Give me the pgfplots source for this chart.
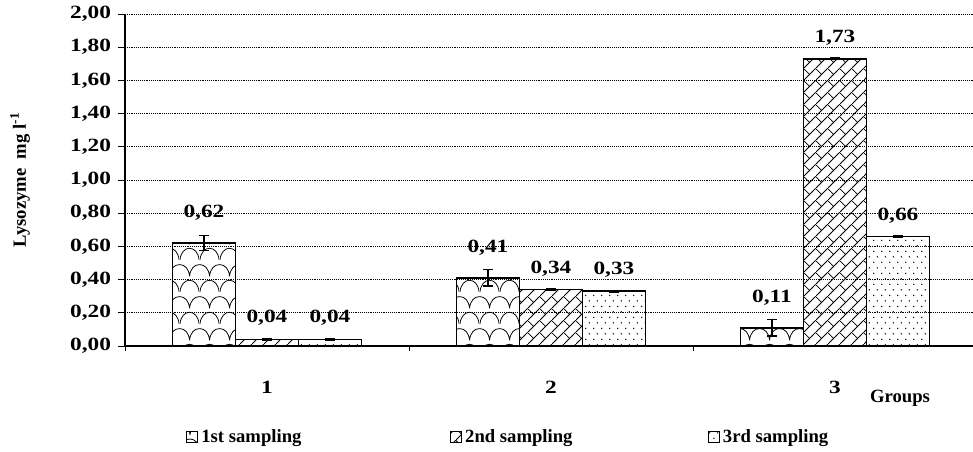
\documentclass[border=0pt]{standalone}
\usepackage{fontspec}
\setmainfont{Liberation Serif}
\newfontfamily\numfont{Liberation Serif}[FakeStretch=1.25]
\usepackage{pgfplots}
\pgfplotsset{compat=1.18}
\usepackage{pgfplotstable}
\usetikzlibrary{patterns,patterns.meta}

\pgfdeclarepattern{
  name=scales, type=uncolored,
  bottom left={\pgfpoint{0pt}{0pt}},
  top right={\pgfpoint{15pt}{24pt}},
  tile size={\pgfpoint{15pt}{24pt}},
  code={
    \pgfsetlinewidth{0.6pt}
    \pgfpathmoveto{\pgfpoint{0pt}{0pt}}
    \pgfpathcurveto{\pgfpoint{1pt}{12pt}}{\pgfpoint{14pt}{12pt}}{\pgfpoint{15pt}{0pt}}
    \pgfpathmoveto{\pgfpoint{-7.5pt}{12pt}}
    \pgfpathcurveto{\pgfpoint{-6.5pt}{24pt}}{\pgfpoint{6.5pt}{24pt}}{\pgfpoint{7.5pt}{12pt}}
    \pgfpathmoveto{\pgfpoint{7.5pt}{12pt}}
    \pgfpathcurveto{\pgfpoint{8.5pt}{24pt}}{\pgfpoint{21.5pt}{24pt}}{\pgfpoint{22.5pt}{12pt}}
    \pgfusepath{stroke}
  }
}
\pgfdeclarepattern{
  name=dbricks, type=uncolored,
  bottom left={\pgfpoint{0pt}{0pt}},
  top right={\pgfpoint{9pt}{9pt}},
  tile size={\pgfpoint{9pt}{9pt}},
  code={
    \pgfsetlinewidth{0.6pt}
    \pgfpathmoveto{\pgfpoint{-0.5pt}{-0.5pt}}
    \pgfpathlineto{\pgfpoint{9.5pt}{9.5pt}}
    \pgfpathmoveto{\pgfpoint{4.5pt}{4.5pt}}
    \pgfpathlineto{\pgfpoint{0pt}{9pt}}
    \pgfusepath{stroke}
  }
}
\pgfdeclarepattern{
  name=sdots, type=uncolored,
  bottom left={\pgfpoint{0pt}{0pt}},
  top right={\pgfpoint{6pt}{8.2pt}},
  tile size={\pgfpoint{6pt}{8.2pt}},
  code={
    \pgfpathcircle{\pgfpoint{1.5pt}{2pt}}{0.6pt}
    \pgfpathcircle{\pgfpoint{4.5pt}{6.1pt}}{0.6pt}
    \pgfusepath{fill}
  }
}

\newcommand\cf{\fontsize{14}{16}\selectfont\bfseries}
\newcommand\nf{\numfont\fontsize{14}{16}\selectfont\bfseries}

\pgfplotstableread{
x y e
1 0.62 0.045
2 0.41 0.05
3 0.11 0.05
}\first
\pgfplotstableread{
x y e
1 0.04 0.004
2 0.34 0.004
3 1.73 0.004
}\second
\pgfplotstableread{
x y e
1 0.04 0.004
2 0.33 0.004
3 0.66 0.004
}\third

\begin{document}
\begin{tikzpicture}
\begin{axis}[
  at={(0,0)}, anchor=south west,
  width=636pt, height=249pt, scale only axis,
  xmin=0.5, xmax=3.486, ymin=0, ymax=2,
  axis x line*=bottom, axis y line*=left,
  axis line style={line width=0.8pt},
  ytick={0,0.2,0.4,0.6,0.8,1.0,1.2,1.4,1.6,1.8,2.0},
  yticklabel style={font=\nf, xshift=-2pt, /pgf/number format/.cd, fixed, fixed zerofill, precision=2, use comma, assume math mode=true},
  xtick={1,2,3}, xticklabels={1,2,3},
  xticklabel style={font=\nf, yshift=-18pt},
  minor xtick={0.5,1.5,2.5},
  tick align=outside,
  major tick length=5pt, minor tick length=4pt,
  major x tick style={draw=none},
  minor x tick style={black, line width=0.6pt},
  major y tick style={black, line width=0.6pt},
  ymajorgrids,
  major grid style={black, densely dotted, line width=0.6pt},
  ybar=0pt, bar width=47.25pt,
  nodes near coords={\pgfmathprintnumber[fixed,fixed zerofill,precision=2,use comma,assume math mode=true]{\pgfplotspointmeta}},
  every node near coord/.append style={font=\nf, anchor=south, inner sep=0pt},
  ylabel={Lysozyme\ \ mg l\textsuperscript{-1}},
  every axis y label/.style={at={(axis description cs:-0.1238,0.5)}, rotate=90, anchor=center, font=\cf},
  xlabel={Groups},
  every axis x label/.style={at={(axis description cs:0.914,0)}, anchor=center, yshift=-39pt, font=\cf},
  legend columns=3,
  legend style={at={(axis description cs:0.452,-0.274)}, anchor=center, draw=none, font=\cf,
    nodes={inner sep=1.5pt},
    /tikz/column 1/.style={column sep=1pt},
    /tikz/column 2/.style={column sep=110pt},
    /tikz/column 3/.style={column sep=1pt},
    /tikz/column 4/.style={column sep=100pt},
    /tikz/column 5/.style={column sep=1pt}},
  legend image code/.code={\draw[#1, line width=0.8pt] (0pt,-4pt) rectangle (8pt,4pt);},
  error bars/y dir=both, error bars/y explicit,
  error bars/error bar style={line width=1.2pt, black},
  error bars/error mark options={rotate=90, mark size=3.5pt, line width=1.2pt, black},
]
\addplot[draw=black, line width=1.3pt, pattern={scales}, pattern color=black,
  every node near coord/.append style={yshift=16pt}]
  table[x=x, y=y, y error=e]{\first};
\addlegendentry{1st sampling}
\addplot[draw=black, line width=1.3pt, pattern={dbricks}, pattern color=black,
  every node near coord/.append style={yshift=9.5pt}]
  table[x=x, y=y, y error=e]{\second};
\addlegendentry{2nd sampling}
\addplot[draw=black, line width=1.3pt, pattern={sdots}, pattern color=black,
  every node near coord/.append style={yshift=9.5pt}]
  table[x=x, y=y, y error=e]{\third};
\addlegendentry{3rd sampling}
\end{axis}
\pgfresetboundingbox
\path[use as bounding box] (-93.75pt,-78.75pt) rectangle (636pt,259.5pt);
\end{tikzpicture}
\end{document}
